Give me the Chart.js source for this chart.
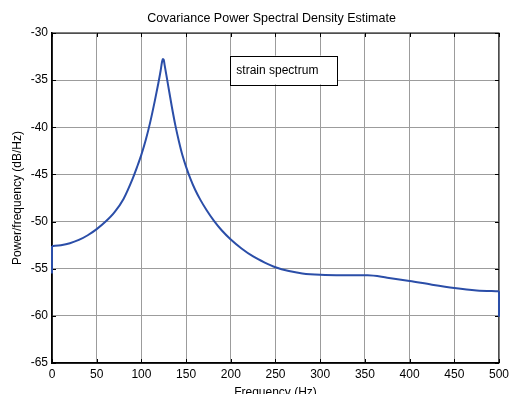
<!DOCTYPE html>
<html>
<head>
<meta charset="utf-8">
<script src="https://cdn.jsdelivr.net/npm/chart.js@4/dist/chart.umd.min.js"></script>
<style>
    html, body { margin: 0; padding: 0; background: #fff; }
    #wrap { width: 513px; height: 394px; }
</style>
</head>
<body>
<div id="wrap"><canvas id="psdChart" width="513" height="394"></canvas></div>
<script>
// Values
const frequency = [0, 10, 20, 30, 40, 50, 60, 70, 80, 90, 95, 100, 105, 110, 115, 119, 121.5, 123, 124, 125, 126, 128, 130, 134, 138, 142, 146, 150, 155, 160, 166, 173, 181, 190, 200, 212, 225, 238, 250, 265, 280, 300, 325, 353, 375, 400, 425, 450, 475, 500];
const powerDb = [-52.6, -52.5, -52.3, -51.95, -51.45, -50.8, -50.0, -49.0, -47.6, -45.5, -44.25, -42.9, -41.3, -39.4, -37.2, -35.3, -34.0, -33.1, -32.75, -32.85, -33.4, -34.5, -35.6, -37.8, -39.8, -41.5, -43.0, -44.2, -45.5, -46.6, -47.7, -48.8, -49.9, -50.95, -51.9, -52.85, -53.7, -54.35, -54.85, -55.25, -55.5, -55.65, -55.7, -55.7, -55.95, -56.3, -56.7, -57.05, -57.3, -57.4];
// the two vertical end pieces of the trace
const startFreq = [0, 0];
const startDb = [-55.5, -52.6];
const endFreq = [500, 500];
const endDb = [-57.4, -60.1];
const xTicks = [0, 50, 100, 150, 200, 250, 300, 350, 400, 450, 500];
const yTicks = [-30, -35, -40, -45, -50, -55, -60, -65];
const seriesLabel = 'strain spectrum';
const chartTitle = 'Covariance Power Spectral Density Estimate';

const FONT = "'Liberation Sans', Arial, Helvetica, sans-serif";
const LINE_COLOR = '#2b4ea8';

// box round the plot and small inward tick marks, drawn under the trace
const axesBox = {
    id: 'axesBox',
    beforeDatasetsDraw(chart) {
        const { ctx, chartArea: a, scales } = chart;
        ctx.save();
        ctx.strokeStyle = '#000';
        ctx.lineWidth = 1;
        ctx.strokeRect(a.left, a.top, a.right - a.left, a.bottom - a.top);
        ctx.beginPath();
        xTicks.forEach(v => {
            const px = Math.round(scales.x.getPixelForValue(v)) + 0.5;
            ctx.moveTo(px, a.bottom); ctx.lineTo(px, a.bottom - 4);
            ctx.moveTo(px, a.top); ctx.lineTo(px, a.top + 4);
        });
        yTicks.forEach(v => {
            const py = Math.round(scales.y.getPixelForValue(v)) + 0.5;
            ctx.moveTo(a.left, py); ctx.lineTo(a.left + 4, py);
            ctx.moveTo(a.right, py); ctx.lineTo(a.right - 4, py);
        });
        ctx.stroke();
        ctx.restore();
    },
    afterDraw(chart) {
        // title centred over the axes rather than the canvas
        const { ctx, chartArea: a } = chart;
        ctx.save();
        ctx.fillStyle = '#000';
        ctx.font = '12.5px ' + FONT;
        ctx.textAlign = 'center';
        ctx.textBaseline = 'middle';
        ctx.fillText(chartTitle, (a.left + a.right) / 2 - 4, a.top - 14);
        ctx.restore();
    }
};

// legend box inside the axes (text only, as in the reference)
const legendBox = {
    id: 'legendBox',
    afterDatasetsDraw(chart) {
        const { ctx, scales } = chart;
        const x0 = scales.x.getPixelForValue(199.5);
        const x1 = scales.x.getPixelForValue(319);
        const y0 = scales.y.getPixelForValue(-32.4);
        const y1 = scales.y.getPixelForValue(-35.45);
        ctx.save();
        ctx.fillStyle = '#fff';
        ctx.fillRect(x0, y0, x1 - x0, y1 - y0);
        ctx.strokeStyle = '#000';
        ctx.lineWidth = 1;
        ctx.strokeRect(Math.round(x0) + 0.5, Math.round(y0) + 0.5, Math.round(x1 - x0), Math.round(y1 - y0));
        ctx.fillStyle = '#000';
        ctx.font = '12px ' + FONT;
        ctx.textBaseline = 'middle';
        ctx.fillText(seriesLabel, x0 + 6, (y0 + y1) / 2 + 0.5);
        ctx.restore();
    }
};

function toPoints(xs, ys) {
    return xs.map((f, i) => ({ x: f, y: ys[i] }));
}

const lineStyle = {
    borderColor: LINE_COLOR,
    borderWidth: 2,
    pointRadius: 0,
    fill: false,
    clip: false
};

const ctx = document.getElementById('psdChart').getContext('2d');
new Chart(ctx, {
    type: 'line',
    data: {
        datasets: [
            Object.assign({ label: seriesLabel, data: toPoints(frequency, powerDb), cubicInterpolationMode: 'monotone' }, lineStyle),
            Object.assign({ label: 'start', data: toPoints(startFreq, startDb), tension: 0 }, lineStyle),
            Object.assign({ label: 'end', data: toPoints(endFreq, endDb), tension: 0 }, lineStyle)
        ]
    },
    plugins: [legendBox, axesBox],
    options: {
        responsive: false,
        animation: false,
        layout: { padding: { left: 0, right: 11, top: 33, bottom: 0 } },
        plugins: {
            legend: { display: false },
            tooltip: { enabled: false },
            title: { display: false }
        },
        scales: {
            x: {
                type: 'linear',
                min: 0,
                max: 500,
                afterBuildTicks(scale) { scale.ticks = xTicks.map(v => ({ value: v })); },
                afterFit(scale) { scale.height = 31; },
                grid: { color: '#9c9c9c', lineWidth: 1, drawTicks: false },
                border: { display: true, color: '#000', width: 1.5 },
                ticks: { color: '#000', padding: 4, maxRotation: 0, font: { family: FONT, size: 12 } },
                title: {
                    display: true,
                    text: 'Frequency (Hz)',
                    color: '#000',
                    font: { family: FONT, size: 12 },
                    padding: { top: 0, bottom: -6 }
                }
            },
            y: {
                type: 'linear',
                min: -65,
                max: -30,
                afterBuildTicks(scale) { scale.ticks = yTicks.slice().reverse().map(v => ({ value: v })); },
                afterFit(scale) { scale.width = 52; },
                grid: { color: '#9c9c9c', lineWidth: 1, drawTicks: false },
                border: { display: true, color: '#000', width: 1.5 },
                ticks: { color: '#000', padding: 4, font: { family: FONT, size: 12 } },
                title: {
                    display: true,
                    text: 'Power/frequency (dB/Hz)',
                    color: '#000',
                    font: { family: FONT, size: 12 },
                    padding: { top: 10, bottom: 0 }
                }
            }
        }
    }
});
</script>
</body>
</html>
